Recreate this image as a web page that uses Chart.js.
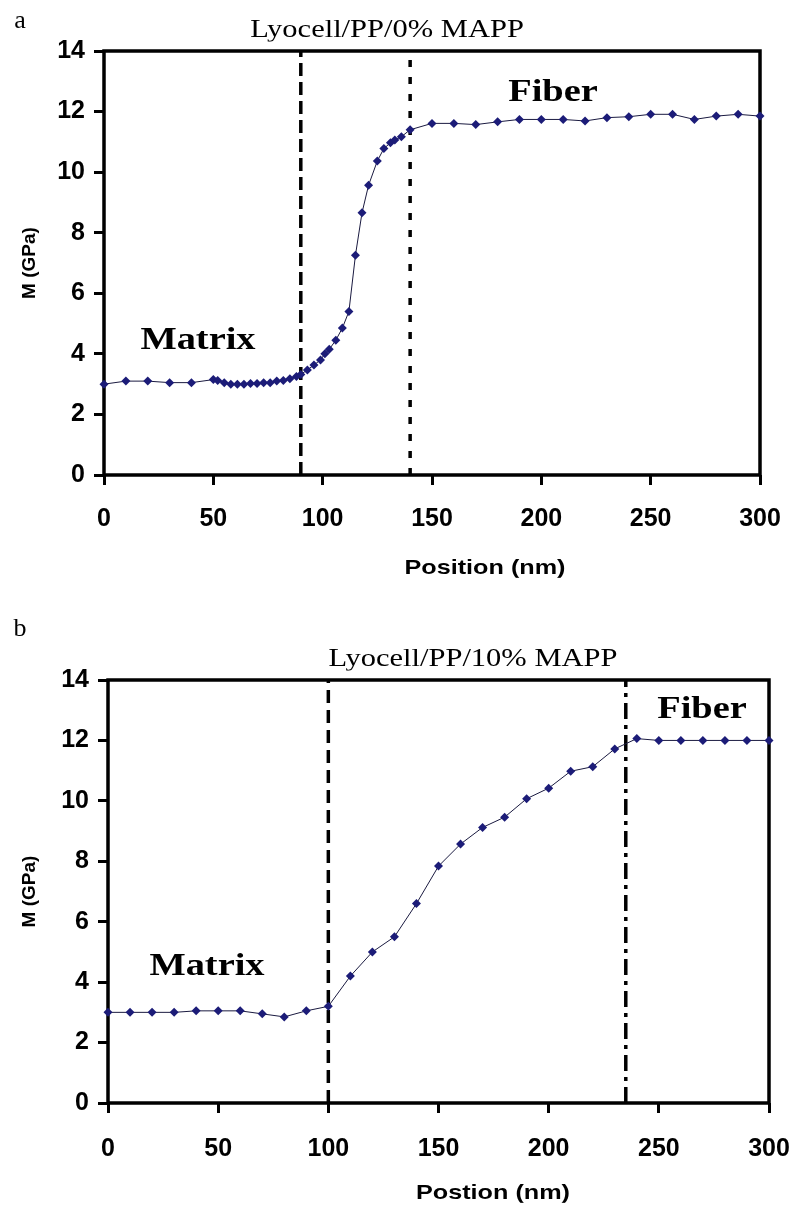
<!DOCTYPE html>
<html><head><meta charset="utf-8">
<script src="https://cdn.jsdelivr.net/npm/chart.js@4.4.1/dist/chart.umd.min.js"></script>
<style>
html,body{margin:0;padding:0;background:#fff;}
body{width:793px;height:1209px;position:relative;overflow:hidden;}
.wrap{position:absolute;left:0;width:793px;}
.t{position:absolute;white-space:nowrap;color:#000;line-height:1;}
.serif{font-family:'Liberation Serif','Times New Roman',serif;}
.title{font-family:'Liberation Serif','Times New Roman',serif;font-size:25px;transform:translate(-50%,-50%) scaleX(1.22);}
.bserif{font-family:'Liberation Serif','Times New Roman',serif;font-weight:bold;font-size:32px;transform:translate(-50%,-50%) scaleX(1.2);}
.sans{font-family:'Liberation Sans',Arial,sans-serif;font-weight:bold;font-size:21px;transform:translate(-50%,-50%) scaleX(1.2);}
.lab{transform:translate(-50%,-50%);}
</style></head><body>
<div class="wrap" style="top:0;height:600px"><canvas id="cA" width="793" height="600"></canvas></div>
<div class="wrap" style="top:600px;height:609px"><canvas id="cB" width="793" height="609"></canvas></div>

<div class="t serif lab" style="left:20px;top:20px;font-size:26px">a</div>
<div class="t title" style="left:387px;top:28px">Lyocell/PP/0% MAPP</div>
<div class="t bserif" style="left:198px;top:338px">Matrix</div>
<div class="t bserif" style="left:553px;top:90px">Fiber</div>
<div class="t sans" style="left:485px;top:566px">Position (nm)</div>

<div class="t serif lab" style="left:20px;top:628px;font-size:26px">b</div>
<div class="t title" style="left:473px;top:657px">Lyocell/PP/10% MAPP</div>
<div class="t bserif" style="left:207px;top:964px">Matrix</div>
<div class="t bserif" style="left:702px;top:707px">Fiber</div>
<div class="t sans" style="left:493px;top:1191px">Postion (nm)</div>

<script>
// ---- data (panel a: Lyocell/PP/0% MAPP) ----
const posA = [0,10,20,30,40,50,52,55,58,61,64,67,70,73,76,79,82,85,88,90,93,96,99,101,103,106,109,112,115,118,121,125,128,131,133,136,140,150,160,170,180,190,200,210,220,230,240,250,260,270,280,290,300];
const modA = [3.0,3.1,3.1,3.05,3.05,3.15,3.12,3.05,3.0,3.0,3.0,3.02,3.02,3.05,3.05,3.1,3.12,3.18,3.25,3.32,3.47,3.63,3.8,4.0,4.15,4.45,4.85,5.4,7.26,8.66,9.57,10.37,10.78,10.97,11.06,11.17,11.4,11.61,11.61,11.57,11.66,11.74,11.74,11.74,11.69,11.8,11.83,11.91,11.91,11.74,11.85,11.91,11.85];
const boundA = [90, 140];

// ---- data (panel b: Lyocell/PP/10% MAPP) ----
const posB = [0,10,20,30,40,50,60,70,80,90,100,110,120,130,140,150,160,170,180,190,200,210,220,230,240,250,260,270,280,290,300];
const modB = [3.0,3.0,3.0,3.0,3.05,3.05,3.05,2.95,2.85,3.05,3.2,4.2,5.0,5.5,6.6,7.84,8.57,9.12,9.46,10.07,10.42,10.98,11.13,11.72,12.06,12.0,12.0,12.0,12.0,12.0,12.0];
const boundB = [100, 235];

const yTicks = [0,2,4,6,8,10,12,14];
const xTicks = [0,50,100,150,200,250,300];

const frame = {
  id:'frame',
  beforeDatasetsDraw(c){
    const a=c.chartArea, ctx=c.ctx;
    ctx.save(); ctx.strokeStyle='#000'; ctx.lineWidth=3.5;
    ctx.strokeRect(a.left,a.top,a.right-a.left,a.bottom-a.top);
    ctx.restore();
  }
};

function build(id, pos, mod, bounds, dashes, pad, yw, xh, xpad){
  const data = pos.map((p,i)=>({x:p,y:mod[i]}));
  const sets = [{
    data, borderColor:'#1a1a40', borderWidth:1, pointStyle:'rectRot', pointRadius:4.5,
    pointBackgroundColor:'#1c1c78', pointBorderColor:'#1c1c78', pointBorderWidth:0, tension:0, clip:false
  }];
  bounds.forEach((b,i)=>{
    sets.push({data:[{x:b,y:0},{x:b,y:14}], borderColor:'#000', borderWidth:3.5, borderDash:dashes[i], pointRadius:0, clip:false});
  });
  const tickFont = {family:"'Liberation Sans', Arial, sans-serif", weight:'bold', size:25};
  return new Chart(document.getElementById(id), {
    type:'line',
    data:{datasets:sets},
    plugins:[frame],
    options:{
      responsive:false, animation:false, events:[],
      layout:{padding:pad},
      plugins:{legend:{display:false}, tooltip:{enabled:false}, title:{display:false}},
      scales:{
        x:{type:'linear', min:0, max:300,
           afterBuildTicks(s){s.ticks = xTicks.map(v=>({value:v}));},
           ticks:{font:tickFont, color:'#000', padding:xpad, maxRotation:0, autoSkip:false},
           grid:{display:true, drawOnChartArea:false, drawTicks:true, tickLength:10, tickWidth:3, tickColor:'#000'},
           border:{display:false},
           afterFit(s){s.height=xh; s.paddingLeft=0; s.paddingRight=0;}},
        y:{type:'linear', min:0, max:14,
           afterBuildTicks(s){s.ticks = yTicks.map(v=>({value:v}));},
           ticks:{font:tickFont, color:'#000', padding:9, autoSkip:false},
           grid:{display:true, drawOnChartArea:false, drawTicks:true, tickLength:10, tickWidth:3, tickColor:'#000'},
           border:{display:false},
           title:{display:true, text:'M (GPa)', color:'#000', font:{family:"'Liberation Sans', Arial, sans-serif", weight:'bold', size:19}, padding:{top:10,bottom:0}},
           afterFit(s){s.width=yw; s.paddingTop=0; s.paddingBottom=0;}}
      }
    }
  });
}

build('cA', posA, modA, boundA, [[13,6],[7,10]], {left:8, right:33, top:51, bottom:65}, 96, 60, 19);
build('cB', posB, modB, boundB, [[13,7],[16,6,4,6]], {left:8, right:24, top:80, bottom:46}, 100, 60, 21);
</script>
</body></html>
